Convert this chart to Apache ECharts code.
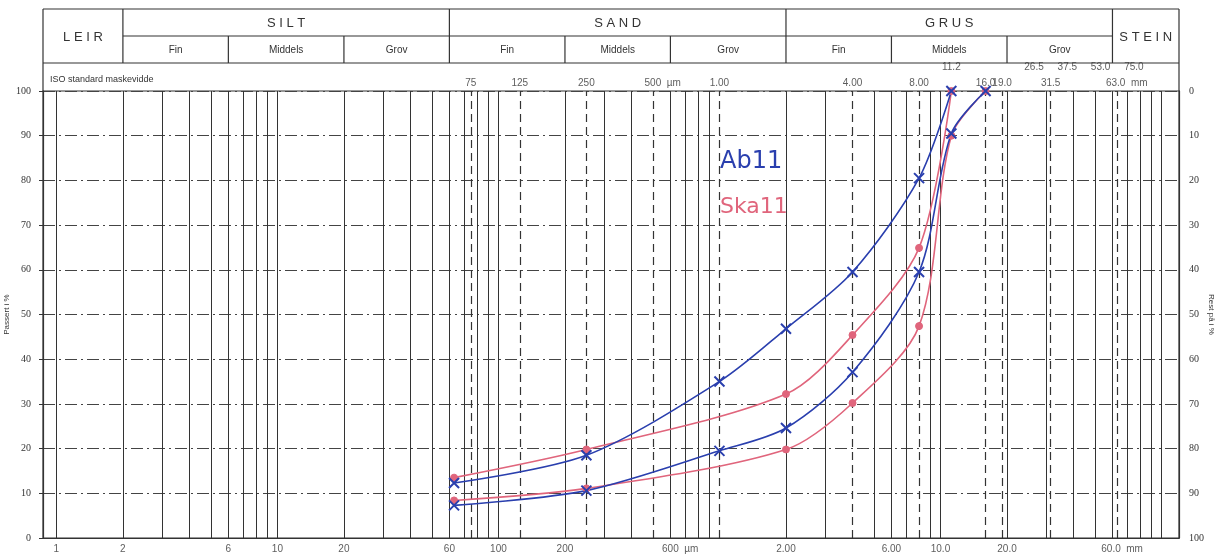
<!DOCTYPE html>
<html><head><meta charset="utf-8">
<script src="https://cdn.jsdelivr.net/npm/echarts@6/dist/echarts.min.js"></script>
<style>html,body{margin:0;padding:0;background:#fff}#c{width:1217px;height:556px}</style>
</head><body><div id="c"></div><script>
// ---- data (grain size in µm, percent passing) ----
const ab11UpperSizes = [63, 250, 1000, 2000, 4000, 8000, 11200];
const ab11UpperValues = [12.3, 18.5, 35, 46.8, 59.5, 80.5, 100];
const ab11LowerSizes = [63, 250, 1000, 2000, 4000, 8000, 11200, 16000];
const ab11LowerValues = [7.3, 10.6, 19.5, 24.6, 37.1, 59.5, 90.5, 100];
const ska11UpperSizes = [63, 250, 2000, 4000, 8000, 11200];
const ska11UpperValues = [13.5, 19.8, 32.2, 45.4, 64.9, 100];
const ska11LowerSizes = [63, 250, 2000, 4000, 8000, 11200, 16000];
const ska11LowerValues = [8.4, 11.1, 19.8, 30.2, 47.4, 90, 100];

// ---- axis / tick label arrays ----
const yTicks = [0, 10, 20, 30, 40, 50, 60, 70, 80, 90, 100];
const bottomTickSizes = [1, 2, 6, 10, 20, 60, 100, 200, 600, 2000, 6000, 10000, 20000, 60000];
const bottomTickTexts = ['1', '2', '6', '10', '20', '60', '100', '200', '600  µm', '2.00', '6.00', '10.0', '20.0', '60.0  mm'];
const topLowSizes = [75, 125, 250, 500, 1000, 4000, 8000, 16000, 19000, 31500, 63000];
const topLowTexts = ['75', '125', '250', '500  µm', '1.00', '4.00', '8.00', '16.0', '19.0', '31.5', '63.0  mm'];
const topHighSizes = [11200, 26500, 37500, 53000, 75000];
const topHighTexts = ['11.2', '26.5', '37.5', '53.0', '75.0'];
const dashedSieves = [75, 125, 250, 500, 1000, 4000, 8000, 16000, 19000, 31500, 63000];
const groupBounds = [2, 60, 2000, 60000];
const subBounds = [6, 20, 200, 600, 6000, 20000];
const groupNames = ['LEIR', 'SILT', 'SAND', 'GRUS', 'STEIN'];
const subNames = ['Fin', 'Middels', 'Grov'];

// log grid lines k*10^n (µm), skipping those replaced by dashed sieve lines
const solidLines = [];
for (let e = 0; e <= 5; e++) for (let k = 1; k <= 9; k++) {
  const v = k * Math.pow(10, e);
  if (v <= 100000 && dashedSieves.indexOf(v) < 0) solidLines.push(v);
}

const X_MIN = 0.87, X_MAX = 120000;
const GL = 43, GR = 38, GT = 91, GB = 18;
const BLUE = '#2a3fae', RED = '#e0657c', INK = '#333';
const FONT = 'Liberation Sans';

function labelSeries(sizes, texts, yVal, pos, dist) {
  return {
    type: 'scatter', silent: true, clip: false, symbolSize: 1, z: 5,
    itemStyle: { color: 'rgba(0,0,0,0)' },
    data: sizes.map((s, i) => {
      const t = texts[i];
      const hasUnit = t.indexOf('  ') > 0;
      const num = t.split('  ')[0];
      const d = { value: [s, yVal], label: { formatter: t } };
      if (hasUnit) { d.label.align = 'left'; d.label.offset = [-num.length * 2.8, 0]; }
      return d;
    }),
    label: { show: true, position: pos, distance: dist, color: INK, fontSize: 10, fontFamily: FONT }
  };
}

function curve(name, sizes, values, color, sym) {
  const isX = sym === 'x';
  return {
    type: 'line', name, smooth: 0.3, z: 10,
    data: sizes.map((s, i) => [s, values[i]]),
    lineStyle: { color, width: 1.6 },
    symbol: isX ? 'path://M0,0L10,10M10,0L0,10' : 'circle',
    symbolSize: isX ? 10 : 7,
    itemStyle: isX ? { color: 'rgba(0,0,0,0)', borderColor: color, borderWidth: 2 } : { color, borderColor: color },
    showAllSymbol: true
  };
}

const chart = echarts.init(document.getElementById('c'));
chart.setOption({
  animation: false,
  backgroundColor: '#fff',
  grid: { left: GL, right: GR, top: GT, bottom: GB, containLabel: false, outerBoundsMode: 'none',
    show: true, borderColor: INK, borderWidth: 1.2 },
  xAxis: {
    type: 'log', logBase: 10, min: X_MIN, max: X_MAX,
    axisLine: { show: true, lineStyle: { color: INK, width: 1.2 } },
    axisLabel: { show: false }, axisTick: { show: false }, splitLine: { show: false }, minorTick: { show: false }
  },
  yAxis: [{
    type: 'value', min: 0, max: 100, interval: 10, position: 'left',
    name: 'Passert i %', nameLocation: 'middle', nameGap: 32, nameMoveOverlap: false,
    nameTextStyle: { fontSize: 8, color: INK, fontFamily: FONT },
    axisLine: { show: true, lineStyle: { color: INK, width: 1.2 } },
    axisTick: { show: true, length: 4, lineStyle: { color: INK } },
    axisLabel: { color: INK, fontSize: 10, margin: 12, fontFamily: 'Liberation Serif', formatter: v => yTicks.indexOf(v) >= 0 ? String(v) : '' },
    splitLine: { show: true, lineStyle: { color: '#444', width: 1, type: [12, 4, 2, 4] } }
  }, {
    type: 'value', min: 0, max: 100, interval: 10, position: 'right', inverse: true,
    name: 'Rest på i %', nameLocation: 'middle', nameGap: 28, nameRotate: -90, nameMoveOverlap: false,
    nameTextStyle: { fontSize: 8, color: INK, fontFamily: FONT },
    axisLine: { show: true, lineStyle: { color: INK, width: 1.2 } },
    axisTick: { show: false },
    axisLabel: { color: INK, fontSize: 10, margin: 10, fontFamily: 'Liberation Serif' },
    splitLine: { show: false }
  }],
  series: [
    { type: 'line', data: [], silent: true, z: 1,
      markLine: { silent: true, symbol: 'none', animation: false, label: { show: false },
        lineStyle: { color: INK, width: 1, type: 'solid' },
        data: solidLines.map(v => ({ xAxis: v })) } },
    { type: 'line', data: [], silent: true, z: 1,
      markLine: { silent: true, symbol: 'none', animation: false, label: { show: false },
        lineStyle: { color: INK, width: 1.2, type: [8, 5] },
        data: dashedSieves.map(v => ({ xAxis: v })) } },
    labelSeries(bottomTickSizes, bottomTickTexts, 0, 'bottom', 6),
    labelSeries(topLowSizes, topLowTexts, 100, 'top', 2),
    labelSeries(topHighSizes, topHighTexts, 100, 'top', 18),
    curve('Ska11 øvre', ska11UpperSizes, ska11UpperValues, RED, 'o'),
    curve('Ska11 nedre', ska11LowerSizes, ska11LowerValues, RED, 'o'),
    curve('Ab11 øvre', ab11UpperSizes, ab11UpperValues, BLUE, 'x'),
    curve('Ab11 nedre', ab11LowerSizes, ab11LowerValues, BLUE, 'x')
  ]
});

// ---- header table, positioned from the x-axis scale ----
const X = v => chart.convertToPixel({ xAxisIndex: 0 }, v);
const left = X(X_MIN), right = X(X_MAX);
const yTop = 9, yMid = 36, yBot = 63;
const ls = { stroke: INK, lineWidth: 1.2 };
const g = [];
const line = (x1, y1, x2, y2) => g.push({ type: 'line', silent: true, shape: { x1, y1, x2, y2 }, style: ls });
const text = (t, x, y, size, extra) => g.push({ type: 'text', silent: true, x, y,
  style: Object.assign({ text: t, fill: INK, font: size + 'px "' + FONT + '"', align: 'center', verticalAlign: 'middle' }, extra || {}) });

line(left, yTop, right, yTop);
line(left, yBot, right, yBot);
line(X(groupBounds[0]), yMid, X(groupBounds[3]), yMid);
line(left, yTop, left, GT);
line(right, yTop, right, GT);
groupBounds.forEach(b => line(X(b), yTop, X(b), yBot));
subBounds.forEach(b => line(X(b), yMid, X(b), yBot));

const edges = [left].concat(groupBounds.map(X)).concat([right]);
groupNames.forEach((n, i) => {
  const cx = (edges[i] + edges[i + 1]) / 2;
  const cy = (i === 0 || i === 4) ? (yTop + yBot) / 2 : (yTop + yMid) / 2;
  text(n.split('').join(' '), cx, cy + 1, 13);
});
for (let gi = 0; gi < 3; gi++) {
  const b = [X(groupBounds[gi]), X(subBounds[gi * 2]), X(subBounds[gi * 2 + 1]), X(groupBounds[gi + 1])];
  subNames.forEach((n, j) => text(n, (b[j] + b[j + 1]) / 2, (yMid + yBot) / 2 + 1, 10));
}
text('ISO standard maskevidde', left + 7, 80, 9, { align: 'left' });

// hand-written annotations
g.push({ type: 'text', silent: true, x: 720, y: 162, style: { text: 'Ab11', fill: BLUE, font: '24px "DejaVu Sans"', align: 'left', verticalAlign: 'middle' } });
g.push({ type: 'text', silent: true, x: 720, y: 207, style: { text: 'Ska11', fill: RED, font: '22px "DejaVu Sans"', align: 'left', verticalAlign: 'middle' } });

chart.setOption({ graphic: g });
</script></body></html>
